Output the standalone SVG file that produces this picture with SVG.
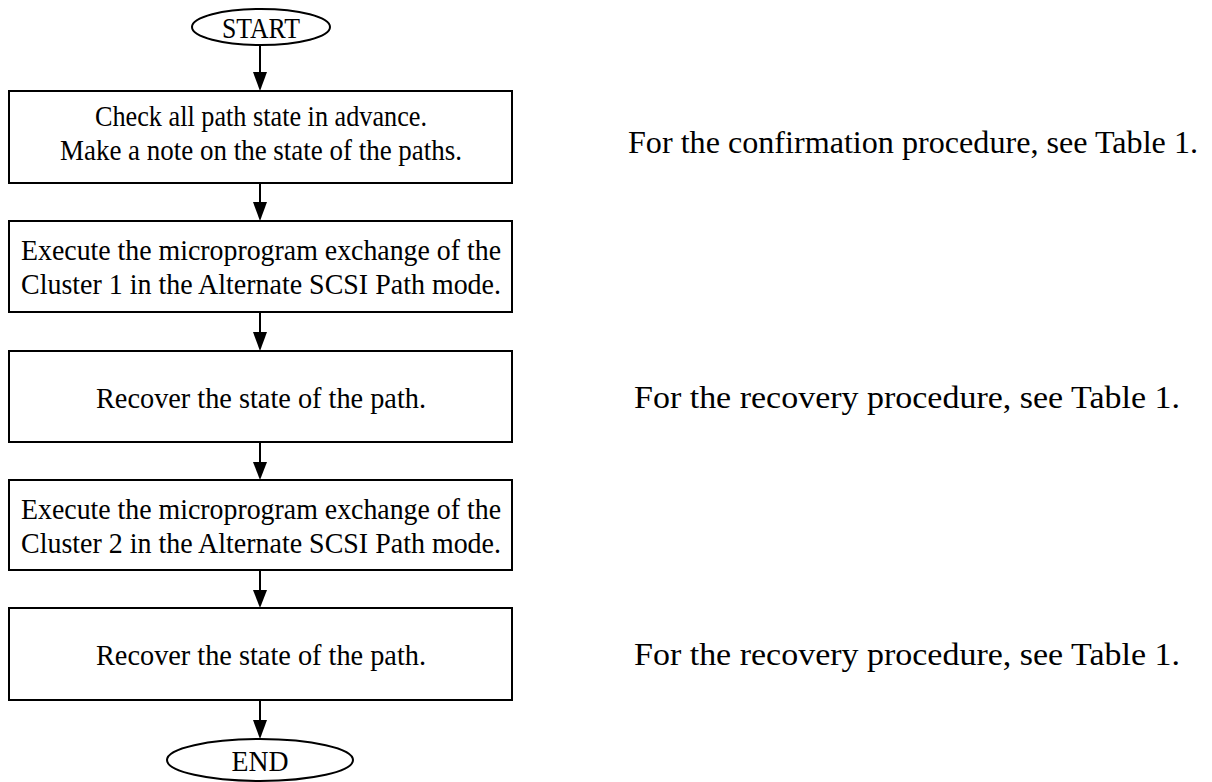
<svg xmlns="http://www.w3.org/2000/svg" width="1212" height="782" viewBox="0 0 1212 782">
  <defs>
    <style>
      .shape { fill: #fff; stroke: #000; stroke-width: 2; }
      .label { font-family: "Liberation Serif", "Times New Roman", serif; font-size: 30px; fill: #000; text-anchor: middle; dominant-baseline: central; }
      .note { font-family: "Liberation Serif", "Times New Roman", serif; font-size: 31px; fill: #000; dominant-baseline: central; }
      .edge { stroke: #000; stroke-width: 2; fill: none; }
      .head { fill: #000; stroke: none; }
    </style>
  </defs>
  <rect width="1212" height="782" fill="#fff"/>

  <g id="connectors">
    <line class="edge" x1="260" y1="45" x2="260" y2="74"/>
    <line class="edge" x1="260" y1="183" x2="260" y2="204"/>
    <line class="edge" x1="260" y1="312" x2="260" y2="334"/>
    <line class="edge" x1="260" y1="442" x2="260" y2="464"/>
    <line class="edge" x1="260" y1="570" x2="260" y2="592"/>
    <line class="edge" x1="260" y1="700" x2="260" y2="722"/>
    <path class="head" d="M253,72 L267,72 L260,91 Z"/>
    <path class="head" d="M253,202 L267,202 L260,221 Z"/>
    <path class="head" d="M253,332 L267,332 L260,351 Z"/>
    <path class="head" d="M253,462 L267,462 L260,480 Z"/>
    <path class="head" d="M253,590 L267,590 L260,608 Z"/>
    <path class="head" d="M253,720 L267,720 L260,739 Z"/>
  </g>

  <g id="start">
    <ellipse class="shape" cx="261" cy="27" rx="69" ry="18"/>
    <text class="label" x="261" y="27" textLength="78" lengthAdjust="spacingAndGlyphs">START</text>
  </g>

  <g id="check-paths">
    <rect class="shape" x="9" y="91" width="503" height="92"/>
    <text class="label" x="261" y="115" textLength="332" lengthAdjust="spacingAndGlyphs">Check all path state in advance.</text>
    <text class="label" x="261" y="149" textLength="402" lengthAdjust="spacingAndGlyphs">Make a note on the state of the paths.</text>
  </g>

  <g id="exchange-cluster1">
    <rect class="shape" x="9" y="221" width="503" height="91"/>
    <text class="label" x="261" y="249" textLength="480" lengthAdjust="spacingAndGlyphs">Execute the microprogram exchange of the</text>
    <text class="label" x="261" y="283" textLength="480" lengthAdjust="spacingAndGlyphs">Cluster 1 in the Alternate SCSI Path mode.</text>
  </g>

  <g id="recover1">
    <rect class="shape" x="9" y="351" width="503" height="91"/>
    <text class="label" x="261" y="397" textLength="330" lengthAdjust="spacingAndGlyphs">Recover the state of the path.</text>
  </g>

  <g id="exchange-cluster2">
    <rect class="shape" x="9" y="480" width="503" height="90"/>
    <text class="label" x="261" y="508" textLength="480" lengthAdjust="spacingAndGlyphs">Execute the microprogram exchange of the</text>
    <text class="label" x="261" y="542" textLength="480" lengthAdjust="spacingAndGlyphs">Cluster 2 in the Alternate SCSI Path mode.</text>
  </g>

  <g id="recover2">
    <rect class="shape" x="9" y="608" width="503" height="92"/>
    <text class="label" x="261" y="654" textLength="330" lengthAdjust="spacingAndGlyphs">Recover the state of the path.</text>
  </g>

  <g id="end">
    <ellipse class="shape" cx="260" cy="760" rx="93" ry="21"/>
    <text class="label" x="260" y="760" textLength="57" lengthAdjust="spacingAndGlyphs">END</text>
  </g>

  <g id="notes">
    <text class="note" x="628" y="142" textLength="570" lengthAdjust="spacingAndGlyphs">For the confirmation procedure, see Table 1.</text>
    <text class="note" x="634" y="397" textLength="546" lengthAdjust="spacingAndGlyphs">For the recovery procedure, see Table 1.</text>
    <text class="note" x="634" y="654" textLength="546" lengthAdjust="spacingAndGlyphs">For the recovery procedure, see Table 1.</text>
  </g>
</svg>
